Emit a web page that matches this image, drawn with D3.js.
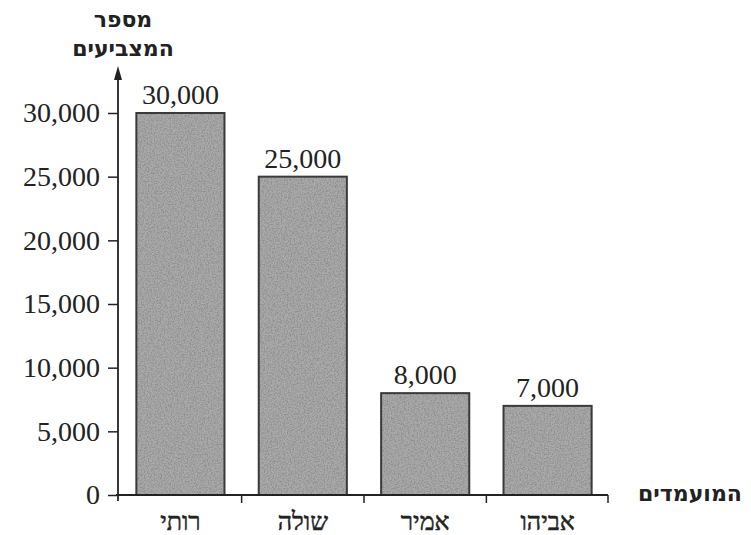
<!DOCTYPE html>
<html>
<head>
<meta charset="utf-8">
<script src="https://cdn.jsdelivr.net/npm/d3@7"></script>
<style>
  body { margin: 0; background: #fff; }
  svg { display: block; }
</style>
</head>
<body>
<div id="chart"></div>
<script>
const candidates = ["רותי", "שולה", "אמיר", "אביהו"]
const voters = [30000, 25000, 8000, 7000]
const yTicks = [0, 5000, 10000, 15000, 20000, 25000, 30000]

const width = 751
const height = 535
const x0 = 118, x1 = 610
const yZero = 495, yTop = 113

const svg = d3.select("#chart")
    .append("svg")
    .attr("width", width)
    .attr("height", height)

// grainy grey fill for the bars
const defs = svg.append("defs")
const filt = defs.append("filter")
    .attr("id", "grain")
    .attr("filterUnits", "userSpaceOnUse")
    .attr("x", 0).attr("y", 0).attr("width", width).attr("height", height)
filt.append("feTurbulence")
    .attr("type", "fractalNoise")
    .attr("baseFrequency", 0.7)
    .attr("numOctaves", 2)
    .attr("seed", 4)
    .attr("result", "noise")
filt.append("feColorMatrix")
    .attr("in", "noise")
    .attr("type", "matrix")
    .attr("values", "0 0 0 0 0.28  0 0 0 0 0.28  0 0 0 0 0.28  3.2 0 0 0 -1.25")
    .attr("result", "dots")
filt.append("feComposite")
    .attr("in", "dots")
    .attr("in2", "SourceAlpha")
    .attr("operator", "in")
    .attr("result", "tex")
filt.append("feMerge")
    .call(m => {
        m.append("feMergeNode").attr("in", "SourceGraphic")
        m.append("feMergeNode").attr("in", "tex")
    })

const x = d3.scaleBand()
    .domain(candidates)
    .range([x0, x1])
    .paddingInner(0.28)
    .paddingOuter(0.15)

const y = d3.scaleLinear()
    .domain([0, 30000])
    .range([yZero, yTop])

const ink = "#222"
const serif = "'Liberation Serif', 'DejaVu Serif', serif"

// bars
svg.append("g")
    .attr("filter", "url(#grain)")
    .selectAll("rect")
    .data(voters)
    .join("rect")
    .attr("x", (d, i) => x(candidates[i]))
    .attr("y", d => y(d))
    .attr("width", x.bandwidth())
    .attr("height", d => yZero - y(d))
    .attr("fill", "#aaaaaa")
svg.append("g")
    .selectAll("rect")
    .data(voters)
    .join("rect")
    .attr("x", (d, i) => x(candidates[i]))
    .attr("y", d => y(d))
    .attr("width", x.bandwidth())
    .attr("height", d => yZero - y(d))
    .attr("fill", "none")
    .attr("stroke", "#3a3a3a")
    .attr("stroke-width", 2)

// value labels
svg.append("g")
    .selectAll("text")
    .data(voters)
    .join("text")
    .attr("x", (d, i) => x(candidates[i]) + x.bandwidth() / 2)
    .attr("y", d => y(d) - 9)
    .attr("text-anchor", "middle")
    .style("font", `28px ${serif}`)
    .attr("fill", ink)
    .text(d => d3.format(",")(d))

// y axis
const yAxis = svg.append("g")
    .attr("transform", `translate(${x0},0)`)
    .call(d3.axisLeft(y).tickValues(yTicks).tickFormat(d3.format(",")).tickSize(10).tickPadding(8))
yAxis.select(".domain").remove()
yAxis.selectAll(".tick line").attr("stroke", ink).attr("stroke-width", 1.5)
yAxis.selectAll(".tick text")
    .attr("fill", ink)
    .style("font", `28px ${serif}`)

svg.append("line")
    .attr("x1", x0).attr("x2", x0)
    .attr("y1", 76).attr("y2", yZero + 6)
    .attr("stroke", ink).attr("stroke-width", 1.8)
svg.append("path")
    .attr("d", `M${x0 - 4},${80} L${x0},${66} L${x0 + 4},${80} Z`)
    .attr("fill", ink)

// x axis
svg.append("line")
    .attr("x1", x0 - 2).attr("x2", x1 - 2)
    .attr("y1", yZero).attr("y2", yZero)
    .attr("stroke", ink).attr("stroke-width", 1.8)
const seps = candidates.slice(1).map(c => x(c) - x.step() * x.paddingInner() / 2)
svg.append("g")
    .selectAll("line")
    .data(seps)
    .join("line")
    .attr("x1", d => d).attr("x2", d => d)
    .attr("y1", yZero).attr("y2", yZero + 8)
    .attr("stroke", ink).attr("stroke-width", 1.5)
svg.append("line")
    .attr("x1", x1 - 2).attr("x2", x1 - 2)
    .attr("y1", yZero).attr("y2", yZero + 8)
    .attr("stroke", ink).attr("stroke-width", 1.5)

// category labels
svg.append("g")
    .selectAll("text")
    .data(candidates)
    .join("text")
    .attr("x", d => x(d) + x.bandwidth() / 2)
    .attr("y", 530)
    .attr("text-anchor", "middle")
    .attr("direction", "rtl")
    .style("font", `25px ${serif}`)
    .attr("fill", ink)
    .attr("stroke", ink)
    .attr("stroke-width", 0.5)
    .text(d => d)

// axis titles
const titleFont = "bold 22px 'DejaVu Sans', sans-serif"
svg.append("text")
    .attr("x", 123).attr("y", 27)
    .attr("text-anchor", "middle")
    .attr("direction", "rtl")
    .style("font", titleFont)
    .attr("fill", ink)
    .text("מספר")
svg.append("text")
    .attr("x", 123).attr("y", 56)
    .attr("text-anchor", "middle")
    .attr("direction", "rtl")
    .style("font", titleFont)
    .attr("fill", ink)
    .text("המצביעים")
svg.append("text")
    .attr("x", 690).attr("y", 501)
    .attr("text-anchor", "middle")
    .attr("direction", "rtl")
    .style("font", titleFont)
    .attr("fill", ink)
    .text("המועמדים")
</script>
</body>
</html>
